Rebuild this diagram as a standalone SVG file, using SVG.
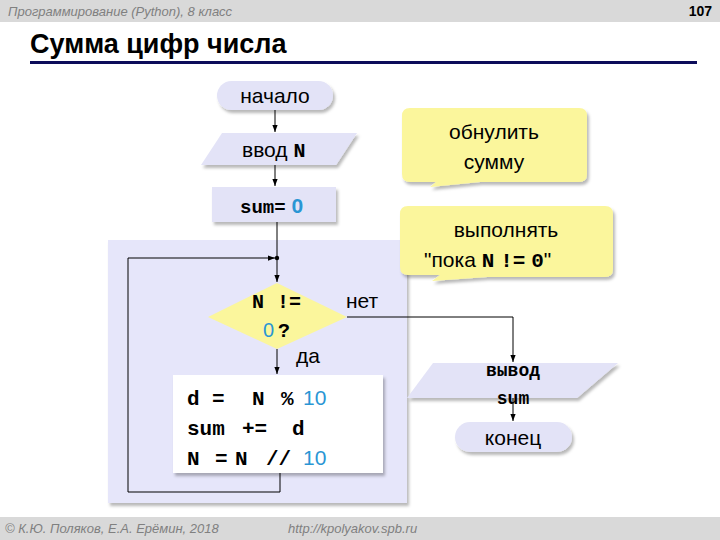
<svg xmlns="http://www.w3.org/2000/svg" width="720" height="540" viewBox="0 0 720 540">
<defs>
<style>
.hdr{font-family:"Liberation Sans",Arial,sans-serif;font-style:italic;font-size:13px;fill:#808080}
.sans{font-family:"Liberation Sans",Arial,sans-serif;font-size:21px;fill:#000}
.mono{font-family:"Liberation Mono","Courier New",monospace;font-weight:bold;fill:#000}
.blue{fill:#2a96d4}
.node{fill:#e3e3f7}
.yel{fill:#fbf69c}
.ln{stroke:#000;stroke-width:1;fill:none}
</style>
<filter id="sh" x="-10%" y="-10%" width="130%" height="140%">
<feDropShadow dx="2" dy="3" stdDeviation="1.5" flood-color="#000" flood-opacity="0.28"/>
</filter>
<marker id="ar" viewBox="0 0 8 8" refX="8" refY="4" markerWidth="7" markerHeight="7" orient="auto" markerUnits="userSpaceOnUse">
<path d="M0,1 L8,4 L0,7 Z" fill="#000"/>
</marker>
</defs>
<rect width="720" height="540" fill="#fff"/>
<g id="header">
<rect x="0" y="0" width="720" height="22" fill="#d9d9d9"/>
<text x="8" y="16" class="hdr">Программирование (Python), 8 класс</text>
<text x="712" y="16" text-anchor="end" font-family="Liberation Sans,Arial,sans-serif" font-weight="bold" font-size="14">107</text>
<text x="30" y="53" font-family="Liberation Sans,Arial,sans-serif" font-weight="bold" font-size="27">Сумма цифр числа</text>
<rect x="30" y="61" width="667" height="3" fill="#0c0c5a"/>
</g>
<g id="footer">
<rect x="0" y="517" width="720" height="23" fill="#d9d9d9"/>
<text x="5" y="533" class="hdr">© К.Ю. Поляков, Е.А. Ерёмин, 2018</text>
<text x="288" y="533" class="hdr">http://kpolyakov.spb.ru</text>
</g>
<g id="loop-panel">
<rect x="108" y="240" width="299" height="263" fill="#e6e6fa" filter="url(#sh)"/>
</g>
<g id="connectors">
<line x1="275" y1="110" x2="275" y2="132" class="ln" marker-end="url(#ar)"/>
<line x1="275" y1="165" x2="275" y2="186" class="ln" marker-end="url(#ar)"/>
<line x1="277" y1="222" x2="277" y2="282" class="ln" marker-end="url(#ar)"/>
<line x1="277" y1="349" x2="277" y2="374" class="ln" marker-end="url(#ar)"/>
<polyline points="280,473 280,492 128,492 128,258 275,258" class="ln" marker-end="url(#ar)"/>
<circle cx="277" cy="258" r="2.2" fill="#000"/>
<polyline points="347,317 513,317 513,362" class="ln" marker-end="url(#ar)"/>
<line x1="513" y1="398" x2="513" y2="421" class="ln" marker-end="url(#ar)"/>
</g>
<g id="start">
<rect x="217" y="81" width="116" height="29" rx="14.5" class="node" filter="url(#sh)"/>
<text x="275" y="103" text-anchor="middle" class="sans">начало</text>
</g>
<g id="input">
<polygon points="222,133 357,133 336,165 201,165" class="node" filter="url(#sh)"/>
<text x="242" y="157" class="sans">ввод <tspan class="mono" font-size="20">N</tspan></text>
</g>
<g id="init">
<rect x="212" y="187" width="124" height="35" class="node" filter="url(#sh)"/>
<text x="240" y="213" class="mono" font-size="19">sum=<tspan font-family="Liberation Sans,Arial,sans-serif" class="blue" font-size="21"> 0</tspan></text>
</g>
<g id="condition">
<polygon points="277,283 347,317 277,349 208,317" class="yel"/>
<text x="252" y="308" class="mono" font-size="20">N <tspan x="277">!=</tspan></text>
<text x="263" y="337" class="mono" font-size="20"><tspan class="blue" font-family="Liberation Sans,Arial,sans-serif" font-weight="normal">0</tspan><tspan x="278">?</tspan></text>
<text x="346" y="308" class="sans" font-size="20">нет</text>
<text x="296" y="363" class="sans" font-size="20">да</text>
</g>
<g id="body">
<rect x="173" y="375" width="210" height="98" fill="#fff" filter="url(#sh)"/>
<text y="405" class="mono" font-size="21"><tspan x="187">d</tspan><tspan x="212">=</tspan><tspan x="252">N</tspan><tspan x="281">%</tspan><tspan x="303" class="blue" font-family="Liberation Sans,Arial,sans-serif" font-weight="normal">10</tspan></text>
<text y="435" class="mono" font-size="21"><tspan x="187">sum</tspan><tspan x="242">+=</tspan><tspan x="292">d</tspan></text>
<text y="465" class="mono" font-size="21"><tspan x="187">N</tspan><tspan x="215">=</tspan><tspan x="235">N</tspan><tspan x="266">//</tspan><tspan x="303" class="blue" font-family="Liberation Sans,Arial,sans-serif" font-weight="normal">10</tspan></text>
</g>
<g id="output">
<polygon points="433,363 618,363 577,398 407,398" class="node" filter="url(#sh)"/>
<text x="513" y="376" text-anchor="middle" class="mono" font-size="18">вывод</text>
<text x="513" y="404" text-anchor="middle" class="mono" font-size="18">sum</text>
</g>
<g id="end">
<rect x="455" y="422" width="117" height="30" rx="15" class="node" filter="url(#sh)"/>
<text x="513" y="445" text-anchor="middle" class="sans">конец</text>
</g>
<g id="note1">
<path d="M410,108 H579 Q587,108 587,116 V174 Q587,182 579,182 H480 L430,187 L436,182 H410 Q402,182 402,174 V116 Q402,108 410,108 Z" class="yel" filter="url(#sh)"/>
<text x="494" y="139" text-anchor="middle" class="sans">обнулить</text>
<text x="494" y="169" text-anchor="middle" class="sans">сумму</text>
</g>
<g id="note2">
<path d="M408,206 H605 Q613,206 613,214 V269 Q613,277 605,277 H487 L432,281 L440,275 H408 Q400,275 400,267 V214 Q400,206 408,206 Z" class="yel" filter="url(#sh)"/>
<text x="506" y="237" text-anchor="middle" class="sans">выполнять</text>
<text x="424" y="267" class="sans">"пока <tspan class="mono">N</tspan> <tspan class="mono">!=</tspan> <tspan class="mono" font-weight="normal">0</tspan>"</text>
</g>
</svg>
